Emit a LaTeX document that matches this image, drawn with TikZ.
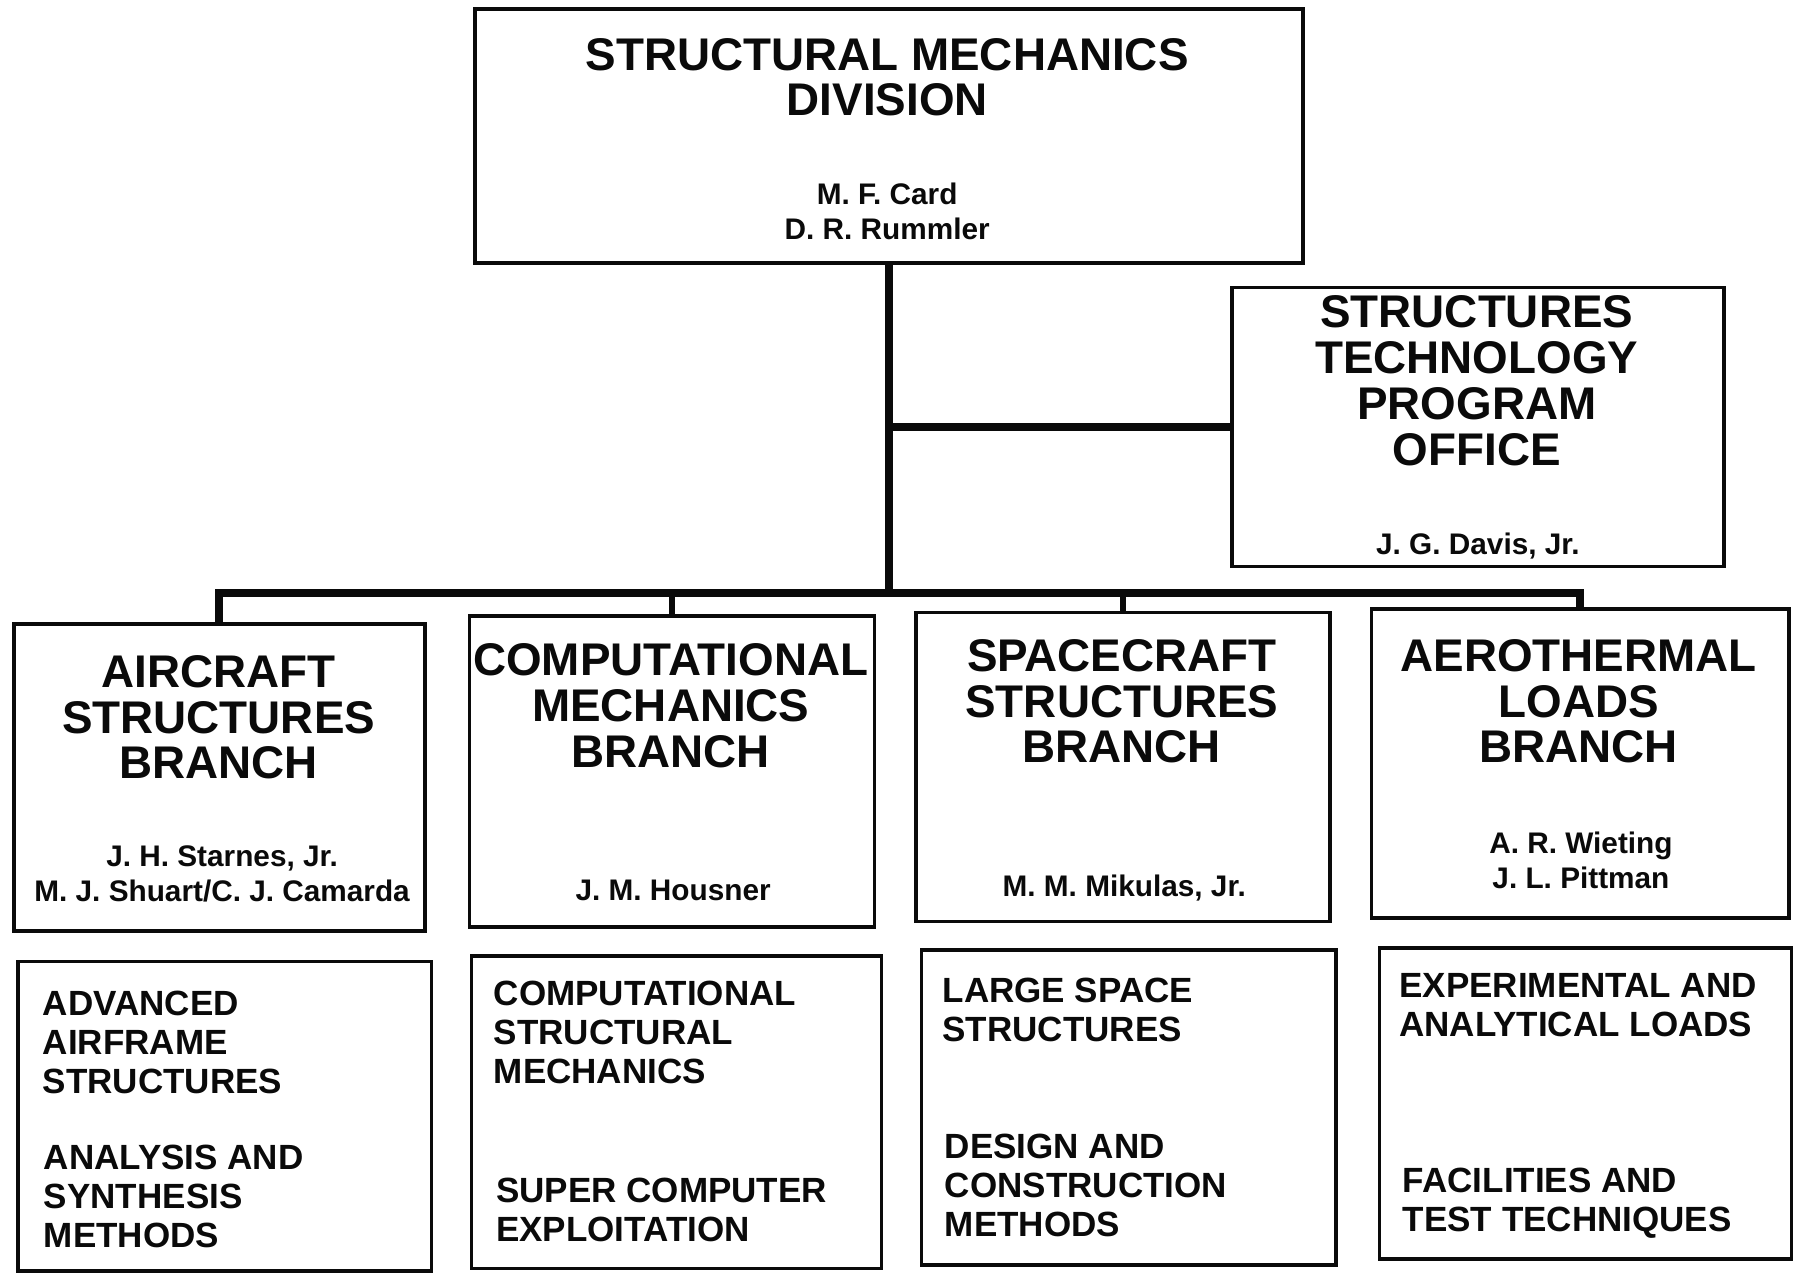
\documentclass[tikz,border=0pt]{standalone}
\usepackage{fontspec}
\setmainfont{Liberation Sans}
\definecolor{InkBlack}{RGB}{10, 10, 10}

\begin{document}
\begin{tikzpicture}[x=0.5pt, y=-0.5pt,
    box/.style={draw=InkBlack, line width=1.6pt, inner sep=0pt},
    title/.style={anchor=north, inner sep=0pt, align=center, text=InkBlack,
        font=\fontsize{20}{20}\selectfont\bfseries},
    names/.style={anchor=north, inner sep=0pt, align=center, text=InkBlack,
        font=\fontsize{13}{15.5}\selectfont\bfseries},
    topic/.style={anchor=north west, inner sep=0pt, align=left, text=InkBlack,
        font=\fontsize{15.3}{17}\selectfont\bfseries},
    link/.style={draw=InkBlack, line width=3.5pt, line join=miter}]
    \useasboundingbox (0,0) rectangle (1568,1113);

    % Division
    \node[box, minimum width=361.5pt, minimum height=111pt] (smd) at (776.5,119) {};
    \node[title] (smdT) at (775,33) {STRUCTURAL MECHANICS\\DIVISION};
    \node[names] (smdN) at (775,159) {M. F. Card\\D. R. Rummler};

    % Program office
    \node[box, minimum width=215pt, minimum height=122pt] (stpo) at (1291,373) {};
    \node[title] (stpoT) at (1290,258) {STRUCTURES\\TECHNOLOGY\\PROGRAM\\OFFICE};
    \node[names] (stpoN) at (1291,465) {J. G. Davis, Jr.};

    % Branches
    \node[box, minimum width=179.5pt, minimum height=134pt] (asb) at (191.5,679) {};
    \node[title] (asbT) at (191,572) {AIRCRAFT\\STRUCTURES\\BRANCH};
    \node[names] (asbN) at (194,738) {J. H. Starnes, Jr.\\M. J. Shuart/C. J. Camarda};

    \node[box, minimum width=177pt, minimum height=136pt] (cmb) at (587,674) {};
    \node[title] (cmbT) at (586,562) {COMPUTATIONAL\\MECHANICS\\BRANCH};
    \node[names] (cmbN) at (588,768) {J. M. Housner};

    \node[box, minimum width=181pt, minimum height=135pt] (ssb) at (981,670) {};
    \node[title] (ssbT) at (980,558) {SPACECRAFT\\STRUCTURES\\BRANCH};
    \node[names] (ssbN) at (982,764) {M. M. Mikulas, Jr.};

    \node[box, minimum width=182.5pt, minimum height=135pt] (alb) at (1380.5,667) {};
    \node[title] (albT) at (1379,558) {AEROTHERMAL\\LOADS\\BRANCH};
    \node[names] (albN) at (1381,726) {A. R. Wieting\\J. L. Pittman};

    % Research areas
    \node[box, minimum width=180.5pt, minimum height=135pt] (asbA) at (196.5,975) {};
    \node[topic] (asbA1) at (37,865) {ADVANCED\\AIRFRAME\\STRUCTURES};
    \node[topic] (asbA2) at (38,1000) {ANALYSIS AND\\SYNTHESIS\\METHODS};

    \node[box, minimum width=179pt, minimum height=136.5pt] (cmbA) at (591,971.5) {};
    \node[topic] (cmbA1) at (431,857) {COMPUTATIONAL\\STRUCTURAL\\MECHANICS};
    \node[topic] (cmbA2) at (433,1029) {SUPER COMPUTER\\EXPLOITATION};

    \node[box, minimum width=181pt, minimum height=137.5pt] (ssbA) at (986,967.5) {};
    \node[topic] (ssbA1) at (823,854) {LARGE SPACE\\STRUCTURES};
    \node[topic] (ssbA2) at (825,990) {DESIGN AND\\CONSTRUCTION\\METHODS};

    \node[box, minimum width=180pt, minimum height=136pt] (albA) at (1385,964) {};
    \node[topic] (albA1) at (1222,850) {EXPERIMENTAL AND\\ANALYTICAL LOADS};
    \node[topic] (albA2) at (1225,1020) {FACILITIES AND\\TEST TECHNIQUES};

    % Connectors
    \coordinate (bus) at (776.5,518);
    \draw[link] (smd.south) -- (smd.south |- bus);
    \draw[link] (stpo.west) -- (smd.south |- stpo.west);
    \draw[link] (asb.north) -- (asb.north |- bus) -- (alb.north |- bus) -- (alb.north);
    \draw[link, line width=2.8pt] (cmb.north) -- (cmb.north |- bus);
    \draw[link, line width=2.8pt] (ssb.north) -- (ssb.north |- bus);
\end{tikzpicture}
\end{document}
